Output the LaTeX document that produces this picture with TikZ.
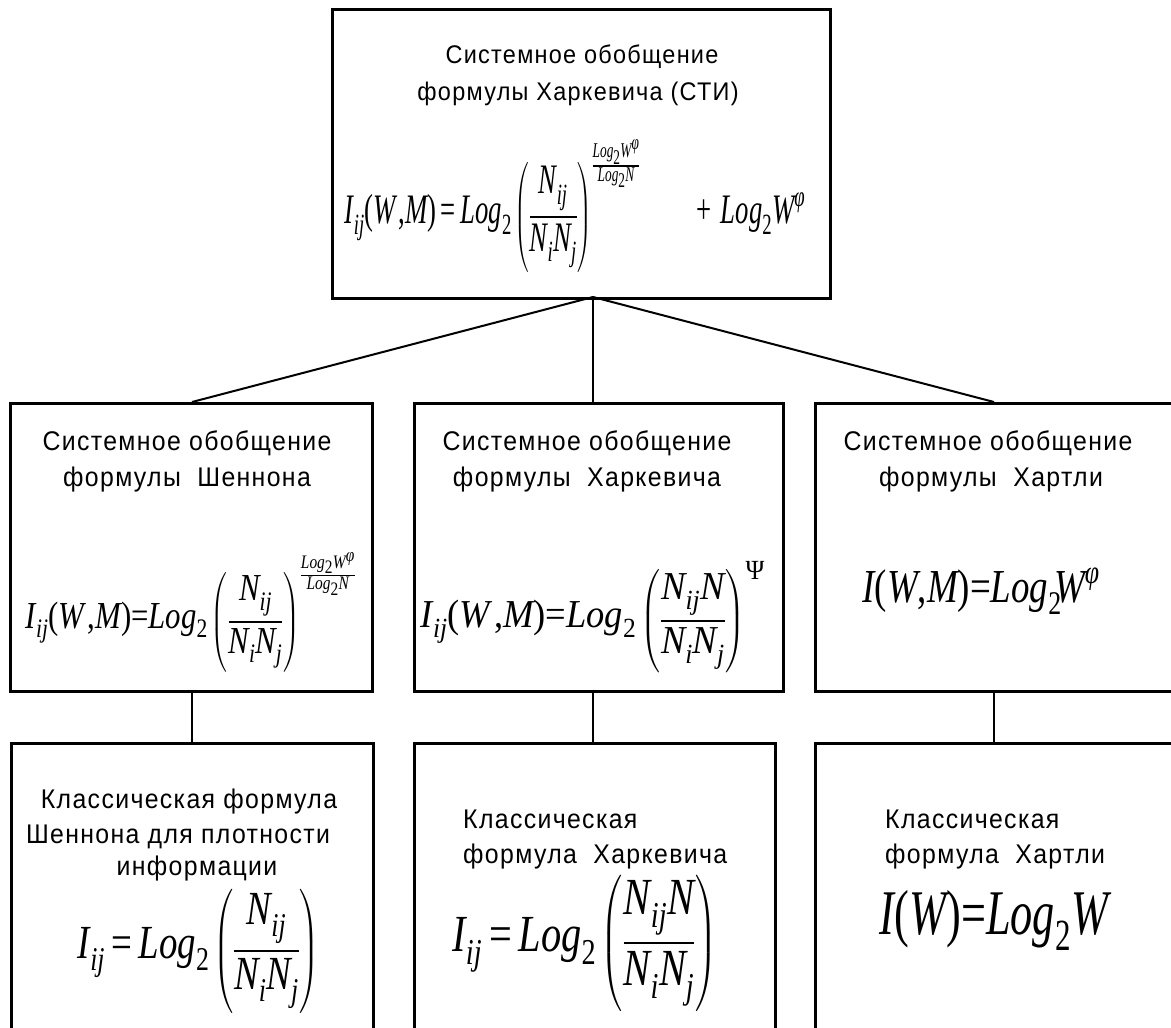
\documentclass[tikz,border=0pt]{standalone}
\usepackage{amsmath}
\usepackage{graphicx}
\usepackage{fontspec}
\setmainfont{Liberation Sans}[FakeStretch=0.92,LetterSpace=5]
\newfontfamily\tms{Liberation Serif}
\newcommand{\iv}[1]{\text{\tms\itshape #1}}
\newcommand{\rv}[1]{\text{\tms\upshape #1}}
\newcommand{\eq}{\mathrel{\rv{=}}}
\newcommand{\pst}{\rule[-36pt]{0pt}{92pt}}
\newcommand{\fr}[2]{\genfrac{}{}{1.8pt}{}{#1}{#2}}
\newcommand{\sfr}[2]{\genfrac{}{}{1.1pt}{}{#1}{#2}}
\newcommand{\fmlbox}[3]{\resizebox*{#1pt}{#2pt}{\fontsize{40}{48}\selectfont$\displaystyle #3$}}
\begin{document}
\begin{tikzpicture}[x=1pt,y=-1pt,
  box/.style={draw,line width=2.6pt,rectangle,inner sep=0pt,anchor=north west},
  conn/.style={line width=2pt},
  ttl/.style={anchor=base,inner sep=0pt,font=\fontsize{27}{32}\selectfont},
  ttltop/.style={ttl,font=\fontsize{25.5}{30}\selectfont},
  ttll/.style={ttl,anchor=base west},
  fml/.style={inner sep=0pt,anchor=center}]
\useasboundingbox (0,0) rectangle (1171,1028);
\clip (0,0) rectangle (1171,1028);
\fill[white] (0,0) rectangle (1171,1028);

% boxes
\node[box,minimum width=498pt,minimum height=289pt] (top) at (331,8) {};
\node[box,minimum width=362pt,minimum height=288pt] (mL) at (9,402) {};
\node[box,minimum width=369pt,minimum height=288pt] (mM) at (413,402) {};
\node[box,minimum width=380pt,minimum height=288pt] (mR) at (814,402) {};
\node[box,minimum width=362pt,minimum height=320pt] (bL) at (10,742) {};
\node[box,minimum width=361pt,minimum height=320pt] (bM) at (413,742) {};
\node[box,minimum width=380pt,minimum height=320pt] (bR) at (814,742) {};

% connectors
\coordinate (apex) at (593,297);
\coordinate (colL) at (192,0);
\coordinate (colM) at (593,0);
\coordinate (colR) at (994,0);
\draw[conn] (apex) -- (mL.north -| colL);
\draw[conn] (apex) -- (mM.north -| colM);
\draw[conn] (apex) -- (mR.north -| colR);
\draw[conn] (mL.south -| colL) -- (bL.north -| colL);
\draw[conn] (mM.south -| colM) -- (bM.north -| colM);
\draw[conn] (mR.south -| colR) -- (bR.north -| colR);

% titles
\node[ttltop] (t1) at (582,63) {Системное обобщение};
\node[ttltop] (t2) at (578,100) {формулы Харкевича (СТИ)};
\node[ttl] (l1) at (187,450) {Системное обобщение};
\node[ttl] (l2) at (187,486) {формулы~~Шеннона};
\node[ttl] (m1) at (587,450) {Системное обобщение};
\node[ttl] (m2) at (587,486) {формулы~~Харкевича};
\node[ttl] (r1) at (988,450) {Системное обобщение};
\node[ttl] (r2) at (991,486) {формулы~~Хартли};
\node[ttl] (bl1) at (189,808) {Классическая формула};
\node[ttl] (bl2) at (178,843) {Шеннона для плотности};
\node[ttl] (bl3) at (197,875) {информации};
\node[ttll] (bm1) at (463,828) {Классическая};
\node[ttll] (bm2) at (463,863) {формула~~Харкевича};
\node[ttll] (br1) at (885,828) {Классическая};
\node[ttll] (br2) at (885,863) {формула~~Хартли};

% formulas
\node[fml] (f1) at (575,206) {\fmlbox{460}{132}{\iv{I}_{\iv{ij}}\rv{(}\iv{W}\,\rv{,}\iv{M}\rv{)} \eq \iv{Log}_{\rv{2}}\left(\pst\fr{\iv{N}_{\iv{ij}}}{\iv{N}_{\iv{i}}\iv{N}_{\iv{j}}}\right)^{\sfr{\iv{Log}_{\rv{2}}\iv{W}^{\iv{φ}}}{\iv{Log}_{\rv{2}}\iv{N}}}\qquad\rv{+}\;\;\iv{Log}_{\rv{2}}\iv{W}^{\iv{φ}}}};
\node[fml] (f2) at (191,612) {\fmlbox{330}{120}{\iv{I}_{\iv{ij}}\rv{(}\iv{W}\,\rv{,}\iv{M}\rv{)}{\rv{=}}\iv{Log}_{\rv{2}}\left(\pst\fr{\iv{N}_{\iv{ij}}}{\iv{N}_{\iv{i}}\iv{N}_{\iv{j}}}\right)^{\sfr{\iv{Log}_{\rv{2}}\iv{W}^{\iv{φ}}}{\iv{Log}_{\rv{2}}\iv{N}}}}};
\node[fml] (f3) at (593,617) {\fmlbox{344}{112}{\iv{I}_{\iv{ij}}\rv{(}\iv{W}\,\rv{,}\iv{M}\rv{)}{\rv{=}}\iv{Log}_{\rv{2}}\left(\pst\fr{\iv{N}_{\iv{ij}}\iv{N}}{\iv{N}_{\iv{i}}\iv{N}_{\iv{j}}}\right)^{\rv{Ψ}}}};
\node[fml] (f4) at (981,591) {\fmlbox{237}{47}{\iv{I}\rv{(}\iv{W}\rv{,}\iv{M}\rv{)}{\rv{=}}\iv{Log}_{\rv{2}}\mkern-6mu\iv{W}^{\iv{φ}}}};
\node[fml] (f5) at (199,951) {\fmlbox{242}{124}{\iv{I}_{\iv{ij}} \eq \iv{Log}_{\rv{2}}\left(\pst\fr{\iv{N}_{\iv{ij}}}{\iv{N}_{\iv{i}}\iv{N}_{\iv{j}}}\right)}};
\node[fml] (f6) at (585,943) {\fmlbox{265}{136}{\iv{I}_{\iv{ij}} \eq \iv{Log}_{\rv{2}}\left(\pst\fr{\iv{N}_{\iv{ij}}\iv{N}}{\iv{N}_{\iv{i}}\iv{N}_{\iv{j}}}\right)}};
\node[fml] (f7) at (994,920) {\fmlbox{228}{60}{\iv{I}\rv{(}\iv{W}\rv{)}{\rv{=}}\iv{Log}_{\rv{2}}\iv{W}}};
\end{tikzpicture}
\end{document}
